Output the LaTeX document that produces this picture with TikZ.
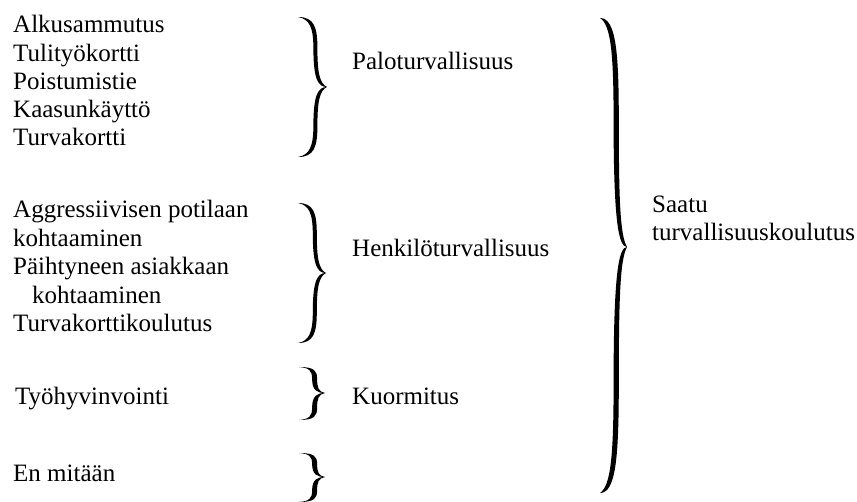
\documentclass[tikz,border=0pt]{standalone}
\usepackage{fontspec}
\setmainfont{Liberation Serif}
\usetikzlibrary{positioning}

\tikzset{
  item/.style={anchor=base west, inner sep=0pt, font=\fontsize{25}{29}\selectfont},
  label/.style={item},
}

% curly brace: tip x, tip y, upper half, lower half, width, half thickness
\newcommand{\curlybrace}[6]{%
  \foreach \h/\s in {#3/1,#4/-1}{
    \fill[shift={(#1,#2)}, yscale=\s]
      (-#5,-\h) .. controls (-0.5*#5+#6,-\h) and (-0.4*#5+#6,-0.85*\h) .. (-0.4*#5+#6,-0.55*\h)
      .. controls (-0.4*#5+#6,-0.2*\h) and (-0.25*#5,-0.05*\h) .. (0,0)
      .. controls (-0.3*#5,0) and (-0.4*#5-#6,-0.1*\h) .. (-0.4*#5-#6,-0.55*\h)
      .. controls (-0.4*#5-#6,-0.85*\h) and (-0.6*#5,-0.97*\h) .. (-#5,-\h) -- cycle;
  }
}

\begin{document}
\begin{tikzpicture}[x=1pt, y=-1pt]
  \useasboundingbox (0,0) rectangle (857,502);

  % left column
  \node[item] (alku) at (13,33) {Alkusammutus};
  \node[item] (tuli) at (13,61.5) {Tulityökortti};
  \node[item] (pois) at (13,90) {Poistumistie};
  \node[item] (kaasu) at (13,118) {Kaasunkäyttö};
  \node[item] (turva) at (13,146) {Turvakortti};

  \node[item] (aggr) at (13,218) {Aggressiivisen potilaan};
  \node[item] (kohta) at (13,246.5) {kohtaaminen};
  \node[item] (paih) at (13,275) {Päihtyneen asiakkaan};
  \node[item] (kohtb) at (32,303.5) {kohtaaminen};
  \node[item] (tkk) at (13,332) {Turvakorttikoulutus};

  \node[item] (tyo) at (15,405) {Työhyvinvointi};
  \node[item] (en) at (13,481) {En mitään};

  % groups
  \node[label] (palo) at (352,70) {Paloturvallisuus};
  \node[label] (henk) at (352,257) {Henkilöturvallisuus};
  \node[label] (kuor) at (352,405) {Kuormitus};
  \node[label] (saatu) at (652,213) {Saatu};
  \node[label] (tkoul) at (652,241) {turvallisuuskoulutus};

  % braces
  \curlybrace{327}{87}{70}{70}{29}{2}
  \curlybrace{326}{273}{70}{70}{28}{2}
  \curlybrace{325}{393}{26}{27}{26}{2.5}
  \curlybrace{325}{477}{24}{25}{26}{2.5}
  \curlybrace{627}{247}{229}{246}{27}{2.6}
\end{tikzpicture}
\end{document}
